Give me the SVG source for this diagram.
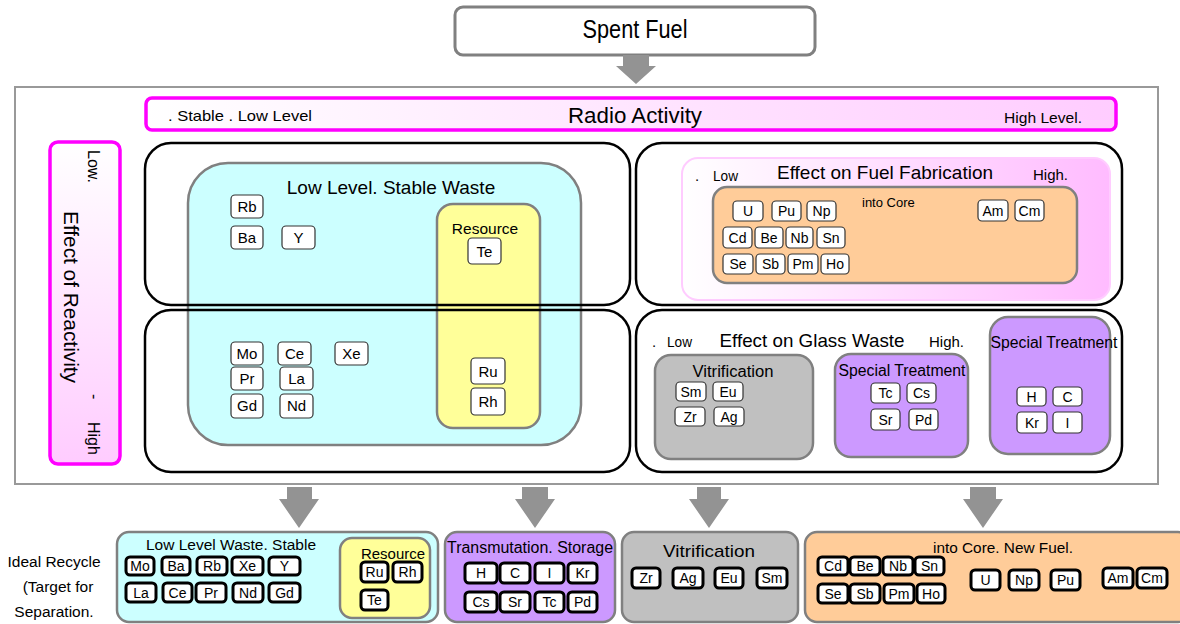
<svg xmlns="http://www.w3.org/2000/svg" width="1180" height="624" viewBox="0 0 1180 624">
<defs>
<linearGradient id="gH" x1="0" y1="0" x2="1" y2="0"><stop offset="0" stop-color="#ffffff"/><stop offset="1" stop-color="#ffccff"/></linearGradient>
<linearGradient id="gV" x1="0" y1="0" x2="0" y2="1"><stop offset="0" stop-color="#ffffff"/><stop offset="1" stop-color="#ffccff"/></linearGradient>
<linearGradient id="gP" x1="0" y1="0" x2="1" y2="0"><stop offset="0" stop-color="#ffffff"/><stop offset="1" stop-color="#ffbbff"/></linearGradient>
</defs>
<style>
text{font-family:"Liberation Sans",Arial,sans-serif;fill:#000}
.el{fill:#fff;stroke:#333;stroke-width:1.2}
.eb{fill:#fff;stroke:#000;stroke-width:3}
.et{font-size:15px;text-anchor:middle}
.es{font-size:14px;text-anchor:middle}
.grp{stroke:#808080;stroke-width:2.5}
.frame{fill:none;stroke:#000;stroke-width:2.5}
.mag{stroke:#ff00ff;stroke-width:3.5}
.arrow{fill:#939393}
.c{text-anchor:middle}
</style>

<g id="spent-fuel">
<rect x="455" y="7" width="360" height="48" rx="8" fill="#fff" stroke="#808080" stroke-width="3"/>
<text x="635" y="38" class="c" font-size="25" textLength="105" lengthAdjust="spacingAndGlyphs">Spent Fuel</text>
</g>

<g id="outer-frame">
<rect x="15" y="87" width="1143" height="397" fill="none" stroke="#999" stroke-width="2"/>
</g>

<g id="radio-activity">
<rect x="146" y="98" width="970" height="32" rx="6" fill="url(#gH)" class="mag"/>
<text x="168" y="121" font-size="15" textLength="144" lengthAdjust="spacingAndGlyphs">. Stable . Low Level</text>
<text x="635" y="123" class="c" font-size="22" textLength="134" lengthAdjust="spacingAndGlyphs">Radio Activity</text>
<text x="1004" y="123" font-size="15" textLength="78" lengthAdjust="spacingAndGlyphs">High Level.</text>
</g>

<g id="reactivity">
<rect x="50" y="142" width="70" height="322" rx="8" fill="url(#gV)" class="mag"/>
<text transform="translate(88,150) rotate(90)" font-size="16">Low.</text>
<text transform="translate(64,211) rotate(90)" font-size="20" textLength="172" lengthAdjust="spacingAndGlyphs">Effect of Reactivity</text>
<text transform="translate(89,394) rotate(90)" font-size="16">-</text>
<text transform="translate(88,422) rotate(90)" font-size="16">High</text>
</g>

<g id="low-level-stable-waste">
<rect x="188" y="163" width="393" height="282" rx="40" fill="#ccffff" class="grp"/>
<text x="391" y="194" class="c" font-size="19">Low Level. Stable Waste</text>
<rect class="el" x="231" y="195" width="32" height="23" rx="4"/><text class="et" x="247" y="212">Rb</text>
<rect class="el" x="231" y="226" width="32" height="23" rx="4"/><text class="et" x="247" y="243">Ba</text>
<rect class="el" x="282" y="226" width="33" height="23" rx="4"/><text class="et" x="298.5" y="243">Y</text>
<rect class="el" x="231" y="342" width="32" height="23" rx="4"/><text class="et" x="247" y="359">Mo</text>
<rect class="el" x="278" y="342" width="33" height="23" rx="4"/><text class="et" x="294.5" y="359">Ce</text>
<rect class="el" x="335" y="342" width="33" height="23" rx="4"/><text class="et" x="351.5" y="359">Xe</text>
<rect class="el" x="231" y="367" width="32" height="23" rx="4"/><text class="et" x="247" y="384">Pr</text>
<rect class="el" x="280" y="367" width="33" height="23" rx="4"/><text class="et" x="296.5" y="384">La</text>
<rect class="el" x="231" y="394" width="32" height="24" rx="4"/><text class="et" x="247" y="411">Gd</text>
<rect class="el" x="280" y="394" width="33" height="24" rx="4"/><text class="et" x="296.5" y="411">Nd</text>
</g>

<g id="resource">
<rect x="437" y="204" width="103" height="224" rx="16" fill="#ffff99" class="grp"/>
<text x="485" y="234" class="c" font-size="15.5">Resource</text>
<rect class="el" x="468" y="238" width="33" height="26" rx="4"/><text class="et" x="484.5" y="256.5">Te</text>
<rect class="el" x="471" y="358" width="34" height="26" rx="4"/><text class="et" x="488" y="376.5">Ru</text>
<rect class="el" x="471" y="388" width="34" height="27" rx="4"/><text class="et" x="488" y="407">Rh</text>
</g>

<g id="quadrant-frames">
<rect class="frame" x="145" y="143" width="485" height="162" rx="26"/>
<rect class="frame" x="145" y="310" width="485" height="162" rx="26"/>
<rect class="frame" x="636" y="143" width="486" height="162" rx="26"/>
<rect class="frame" x="636" y="310" width="486" height="162" rx="26"/>
</g>

<g id="fuel-fabrication">
<rect x="682" y="158" width="428" height="142" rx="16" fill="url(#gP)" stroke="#ffccff" stroke-width="2"/>
<text x="695" y="181" font-size="15">.</text>
<text x="713" y="181" font-size="15" textLength="25" lengthAdjust="spacingAndGlyphs">Low</text>
<text x="885" y="179" class="c" font-size="19" textLength="216" lengthAdjust="spacingAndGlyphs">Effect on Fuel Fabrication</text>
<text x="1033" y="180" font-size="15" textLength="35" lengthAdjust="spacingAndGlyphs">High.</text>
</g>

<g id="into-core">
<rect x="713" y="187" width="364" height="96" rx="14" fill="#ffcc99" class="grp"/>
<text x="862" y="207" font-size="13">into Core</text>
<rect class="el" x="733" y="201" width="30" height="20" rx="4"/><text class="es" x="748" y="216">U</text>
<rect class="el" x="772" y="201" width="29" height="20" rx="4"/><text class="es" x="786.5" y="216">Pu</text>
<rect class="el" x="807" y="201" width="29" height="20" rx="4"/><text class="es" x="821.5" y="216">Np</text>
<rect class="el" x="978" y="200" width="30" height="21" rx="4"/><text class="es" x="993" y="216">Am</text>
<rect class="el" x="1015" y="200" width="29" height="21" rx="4"/><text class="es" x="1029.5" y="216">Cm</text>
<rect class="el" x="723" y="227" width="29" height="21" rx="4"/><text class="es" x="737.5" y="243">Cd</text>
<rect class="el" x="755" y="227" width="28" height="21" rx="4"/><text class="es" x="769" y="243">Be</text>
<rect class="el" x="786" y="227" width="27" height="21" rx="4"/><text class="es" x="799.5" y="243">Nb</text>
<rect class="el" x="817" y="227" width="28" height="21" rx="4"/><text class="es" x="831" y="243">Sn</text>
<rect class="el" x="723" y="254" width="30" height="20" rx="4"/><text class="es" x="738" y="269">Se</text>
<rect class="el" x="756" y="254" width="29" height="20" rx="4"/><text class="es" x="770.5" y="269">Sb</text>
<rect class="el" x="788" y="254" width="30" height="20" rx="4"/><text class="es" x="803" y="269">Pm</text>
<rect class="el" x="821" y="254" width="28" height="20" rx="4"/><text class="es" x="835" y="269">Ho</text>
</g>

<g id="glass-waste">
<text x="652" y="347" font-size="15">.</text>
<text x="667" y="347" font-size="15" textLength="25" lengthAdjust="spacingAndGlyphs">Low</text>
<text x="812" y="347" class="c" font-size="19" textLength="185" lengthAdjust="spacingAndGlyphs">Effect on Glass Waste</text>
<text x="929" y="347" font-size="15" textLength="35" lengthAdjust="spacingAndGlyphs">High.</text>
</g>

<g id="vitrification-top">
<rect x="655" y="355" width="158" height="104" rx="16" fill="#c0c0c0" class="grp"/>
<text x="733" y="377" class="c" font-size="16" textLength="81" lengthAdjust="spacingAndGlyphs">Vitrification</text>
<rect class="el" x="676" y="382" width="30" height="19" rx="4"/><text class="es" x="691" y="397">Sm</text>
<rect class="el" x="713" y="382" width="30" height="19" rx="4"/><text class="es" x="728" y="397">Eu</text>
<rect class="el" x="675" y="407" width="30" height="19" rx="4"/><text class="es" x="690" y="422">Zr</text>
<rect class="el" x="714" y="407" width="30" height="19" rx="4"/><text class="es" x="729" y="422">Ag</text>
</g>

<g id="special-treatment-1">
<rect x="835" y="354" width="133" height="103" rx="16" fill="#cc99ff" class="grp"/>
<text x="902" y="376" class="c" font-size="16" textLength="127" lengthAdjust="spacingAndGlyphs">Special Treatment</text>
<rect class="el" x="871" y="383" width="29" height="20" rx="4"/><text class="es" x="885.5" y="398">Tc</text>
<rect class="el" x="907" y="383" width="29" height="20" rx="4"/><text class="es" x="921.5" y="398">Cs</text>
<rect class="el" x="871" y="409" width="29" height="21" rx="4"/><text class="es" x="885.5" y="424.5">Sr</text>
<rect class="el" x="909" y="409" width="29" height="21" rx="4"/><text class="es" x="923.5" y="424.5">Pd</text>
</g>

<g id="special-treatment-2">
<rect x="990" y="317" width="120" height="137" rx="18" fill="#cc99ff" class="grp"/>
<text x="1054" y="348" class="c" font-size="16" textLength="127" lengthAdjust="spacingAndGlyphs">Special Treatment</text>
<rect class="el" x="1017" y="387" width="29" height="19" rx="4"/><text class="es" x="1031.5" y="402">H</text>
<rect class="el" x="1053" y="387" width="29" height="19" rx="4"/><text class="es" x="1067.5" y="402">C</text>
<rect class="el" x="1017" y="412" width="30" height="21" rx="4"/><text class="es" x="1032" y="428">Kr</text>
<rect class="el" x="1053" y="412" width="29" height="21" rx="4"/><text class="es" x="1067.5" y="428">I</text>
</g>

<g id="connectors">
<polygon class="arrow" points="623,55 649,55 649,66 656,66 636,84 616,66 623,66"/>
<polygon class="arrow" points="287,487 312,487 312,499 319,499 299,528 279,499 287,499"/>
<polygon class="arrow" points="522,487 548,487 548,499 555,499 535,528 515,499 522,499"/>
<polygon class="arrow" points="697,487 721,487 721,499 729,499 709,528 689,499 697,499"/>
<polygon class="arrow" points="970,487 996,487 996,499 1003,499 983,528 963,499 970,499"/>
</g>

<g id="ideal-recycle">
<text x="54" y="567" class="c" font-size="15.5">Ideal Recycle</text>
<text x="58" y="592" class="c" font-size="15.5">(Target for</text>
<text x="54" y="617" class="c" font-size="15.5">Separation.</text>
</g>

<g id="bottom-low-level">
<rect x="117" y="532" width="321" height="90" rx="12" fill="#ccffff" class="grp"/>
<text x="231" y="550" class="c" font-size="15.5" textLength="170" lengthAdjust="spacingAndGlyphs">Low Level Waste. Stable</text>
<rect class="eb" x="126" y="557" width="28" height="18" rx="4"/><text class="es" x="140" y="571">Mo</text>
<rect class="eb" x="162" y="557" width="28" height="18" rx="4"/><text class="es" x="176" y="571">Ba</text>
<rect class="eb" x="197" y="557" width="30" height="18" rx="4"/><text class="es" x="212" y="571">Rb</text>
<rect class="eb" x="232" y="557" width="31" height="18" rx="4"/><text class="es" x="247.5" y="571">Xe</text>
<rect class="eb" x="269" y="557" width="31" height="18" rx="4"/><text class="es" x="284.5" y="571">Y</text>
<rect class="eb" x="126" y="583" width="30" height="19" rx="4"/><text class="es" x="141" y="598">La</text>
<rect class="eb" x="163" y="583" width="29" height="19" rx="4"/><text class="es" x="177.5" y="598">Ce</text>
<rect class="eb" x="196" y="583" width="30" height="19" rx="4"/><text class="es" x="211" y="598">Pr</text>
<rect class="eb" x="233" y="583" width="30" height="19" rx="4"/><text class="es" x="248" y="598">Nd</text>
<rect class="eb" x="269" y="583" width="31" height="19" rx="4"/><text class="es" x="284.5" y="598">Gd</text>
</g>

<g id="bottom-resource">
<rect x="340" y="538" width="90" height="80" rx="12" fill="#ffff99" class="grp"/>
<text x="393" y="559" class="c" font-size="15" textLength="64" lengthAdjust="spacingAndGlyphs">Resource</text>
<rect class="eb" x="361" y="562" width="27" height="20" rx="4"/><text class="es" x="374.5" y="577">Ru</text>
<rect class="eb" x="393" y="562" width="29" height="20" rx="4"/><text class="es" x="407.5" y="577">Rh</text>
<rect class="eb" x="361" y="590" width="27" height="20" rx="4"/><text class="es" x="374.5" y="605">Te</text>
</g>

<g id="bottom-transmutation">
<rect x="445" y="532" width="170" height="90" rx="12" fill="#cc99ff" class="grp"/>
<text x="530" y="553" class="c" font-size="16" textLength="166" lengthAdjust="spacingAndGlyphs">Transmutation. Storage</text>
<rect class="eb" x="465" y="563" width="32" height="20" rx="4"/><text class="es" x="481" y="578">H</text>
<rect class="eb" x="500" y="563" width="30" height="20" rx="4"/><text class="es" x="515" y="578">C</text>
<rect class="eb" x="535" y="563" width="29" height="20" rx="4"/><text class="es" x="549.5" y="578">I</text>
<rect class="eb" x="568" y="563" width="29" height="20" rx="4"/><text class="es" x="582.5" y="578">Kr</text>
<rect class="eb" x="465" y="592" width="32" height="20" rx="4"/><text class="es" x="481" y="607">Cs</text>
<rect class="eb" x="500" y="592" width="30" height="20" rx="4"/><text class="es" x="515" y="607">Sr</text>
<rect class="eb" x="535" y="592" width="29" height="20" rx="4"/><text class="es" x="549.5" y="607">Tc</text>
<rect class="eb" x="568" y="592" width="29" height="20" rx="4"/><text class="es" x="582.5" y="607">Pd</text>
</g>

<g id="bottom-vitrification">
<rect x="622" y="532" width="176" height="90" rx="12" fill="#c0c0c0" class="grp"/>
<text x="709" y="557" class="c" font-size="17" textLength="92" lengthAdjust="spacingAndGlyphs">Vitrification</text>
<rect class="eb" x="632" y="568" width="28" height="20" rx="4"/><text class="es" x="646" y="583">Zr</text>
<rect class="eb" x="673" y="568" width="30" height="20" rx="4"/><text class="es" x="688" y="583">Ag</text>
<rect class="eb" x="715" y="568" width="28" height="20" rx="4"/><text class="es" x="729" y="583">Eu</text>
<rect class="eb" x="757" y="568" width="30" height="20" rx="4"/><text class="es" x="772" y="583">Sm</text>
</g>

<g id="bottom-new-fuel">
<rect x="805" y="532" width="385" height="90" rx="12" fill="#ffcc99" class="grp"/>
<text x="1003" y="553" class="c" font-size="15.5" textLength="140" lengthAdjust="spacingAndGlyphs">into Core. New Fuel.</text>
<rect class="eb" x="818" y="557" width="30" height="18" rx="4"/><text class="es" x="833" y="571">Cd</text>
<rect class="eb" x="850" y="557" width="30" height="18" rx="4"/><text class="es" x="865" y="571">Be</text>
<rect class="eb" x="883" y="557" width="30" height="18" rx="4"/><text class="es" x="898" y="571">Nb</text>
<rect class="eb" x="915" y="557" width="29" height="18" rx="4"/><text class="es" x="929.5" y="571">Sn</text>
<rect class="eb" x="818" y="584" width="30" height="19" rx="4"/><text class="es" x="833" y="599">Se</text>
<rect class="eb" x="850" y="584" width="30" height="19" rx="4"/><text class="es" x="865" y="599">Sb</text>
<rect class="eb" x="884" y="584" width="30" height="19" rx="4"/><text class="es" x="899" y="599">Pm</text>
<rect class="eb" x="917" y="584" width="28" height="19" rx="4"/><text class="es" x="931" y="599">Ho</text>
<rect class="eb" x="971" y="570" width="29" height="20" rx="4"/><text class="es" x="985.5" y="585">U</text>
<rect class="eb" x="1009" y="570" width="30" height="20" rx="4"/><text class="es" x="1024" y="585">Np</text>
<rect class="eb" x="1051" y="570" width="29" height="20" rx="4"/><text class="es" x="1065.5" y="585">Pu</text>
<rect class="eb" x="1103" y="568" width="30" height="20" rx="4"/><text class="es" x="1118" y="583">Am</text>
<rect class="eb" x="1137" y="568" width="30" height="20" rx="4"/><text class="es" x="1152" y="583">Cm</text>
</g>
</svg>
